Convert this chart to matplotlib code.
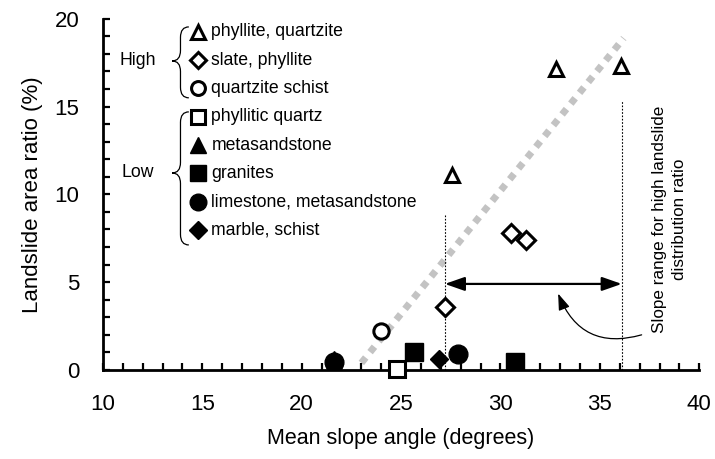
import matplotlib
matplotlib.use("Agg")
import matplotlib.pyplot as plt
from matplotlib.path import Path
from matplotlib.patches import PathPatch
from matplotlib.ticker import MultipleLocator

plt.rcParams['font.family'] = ['Liberation Sans', 'DejaVu Sans']

# ---- data ----
phyllite_quartzite_x = [27.55, 32.8, 36.05]
phyllite_quartzite_y = [11.1, 17.15, 17.3]
slate_phyllite_x = [27.2, 30.55, 31.3]
slate_phyllite_y = [3.6, 7.8, 7.4]
quartzite_schist_x = [24.0, 21.6]
quartzite_schist_y = [2.2, 0.35]
phyllitic_quartz_x = [24.8]
phyllitic_quartz_y = [0.05]
metasandstone_x = [21.6]
metasandstone_y = [0.65]
granites_x = [25.65, 30.75]
granites_y = [1.0, 0.45]
limestone_x = [21.6, 27.85]
limestone_y = [0.45, 0.9]
marble_x = [26.9]
marble_y = [0.65]

trend_x = [23.0, 36.2]
trend_y = [0.4, 18.9]
range_lo, range_hi = 27.2, 36.1
range_lo_top, range_hi_top = 8.8, 15.3
arrow_y = 4.9

legend_labels = ["phyllite, quartzite", "slate, phyllite", "quartzite schist",
                 "phyllitic quartz", "metasandstone", "granites",
                 "limestone, metasandstone", "marble, schist"]
group_labels = ["High", "Low"]

fig = plt.figure(figsize=(7.15, 4.59), dpi=100)
ax = fig.add_axes([0.144, 0.194, 0.834, 0.765])
ax.set_xlim(10, 40)
ax.set_ylim(0, 20)

open_kw = dict(mfc='white', mec='black', mew=2.2, ls='none')
fill_kw = dict(mfc='black', mec='black', ls='none')

ax.plot(trend_x, trend_y, color='#c3c3c3', lw=5, ls=(0, (1, 1)), zorder=1)

ax.plot([range_lo, range_lo], [0, range_lo_top], color='black', lw=0.8, ls=(0, (1.5, 1.5)), zorder=1)
ax.plot([range_hi, range_hi], [0, range_hi_top], color='black', lw=0.8, ls=(0, (1.5, 1.5)), zorder=1)
ax.annotate('', xy=(range_lo, arrow_y), xytext=(range_hi, arrow_y),
            arrowprops=dict(arrowstyle='<|-|>,head_length=1.2,head_width=0.42',
                            color='black', lw=1.6, shrinkA=0, shrinkB=0))
ax.annotate('', xy=(32.9, 4.35), xytext=(37.1, 2.0),
            arrowprops=dict(arrowstyle='-|>,head_length=1.0,head_width=0.35',
                            color='black', lw=0.9, shrinkA=0, shrinkB=0,
                            connectionstyle='arc3,rad=-0.45'))
ax.text(38.5, 8.6, "Slope range for high landslide\ndistribution ratio", rotation=90,
        ha='center', va='center', fontsize=12.3, linespacing=1.4)

ax.plot(quartzite_schist_x, quartzite_schist_y, 'o', ms=11, zorder=3, **open_kw)
ax.plot(limestone_x, limestone_y, 'o', ms=13.5, zorder=3, **fill_kw)
ax.plot(metasandstone_x, metasandstone_y, '^', ms=11, zorder=4, **fill_kw)
ax.plot(phyllitic_quartz_x, phyllitic_quartz_y, 's', ms=12, zorder=4, clip_on=False, **open_kw)
ax.plot(granites_x, granites_y, 's', ms=13, zorder=3, **fill_kw)
ax.plot(marble_x, marble_y, 'D', ms=9.5, zorder=3, **fill_kw)
ax.plot(slate_phyllite_x, slate_phyllite_y, 'D', ms=9, zorder=3, **open_kw)
ax.plot(phyllite_quartzite_x, phyllite_quartzite_y, '^', ms=10.5, zorder=3, **open_kw)

# legend (manual)
styles = [('^', open_kw, 10), ('D', open_kw, 8), ('o', open_kw, 10),
          ('s', open_kw, 10), ('^', fill_kw, 11), ('s', fill_kw, 12),
          ('o', fill_kw, 12), ('D', fill_kw, 9)]
tr = ax.transAxes
y0, dy = 0.963, 0.0806
for i, (lab, (mk, kw, ms)) in enumerate(zip(legend_labels, styles)):
    y = y0 - i * dy
    ax.plot([0.160], [y], mk, ms=ms, transform=tr, **kw)
    ax.text(0.182, y, lab, transform=tr, ha='left', va='center', fontsize=12.7)

ax.text(0.058, 0.880, group_labels[0], transform=tr, ha='center', va='center', fontsize=12.7)
ax.text(0.058, 0.561, group_labels[1], transform=tr, ha='center', va='center', fontsize=12.7)

def brace(x_tip, x_mid, x_end, y_top, y_mid, y_bot):
    r = 0.03
    verts = [(x_end, y_top), (x_mid, y_top), (x_mid, y_top - r),
             (x_mid, y_mid + r),
             (x_mid, y_mid), (x_tip, y_mid),
             (x_mid, y_mid), (x_mid, y_mid - r),
             (x_mid, y_bot + r),
             (x_mid, y_bot), (x_end, y_bot)]
    codes = [Path.MOVETO, Path.CURVE3, Path.CURVE3, Path.LINETO,
             Path.CURVE3, Path.CURVE3, Path.CURVE3, Path.CURVE3,
             Path.LINETO, Path.CURVE3, Path.CURVE3]
    ax.add_patch(PathPatch(Path(verts, codes), fc='none', ec='black', lw=0.9,
                           transform=tr, clip_on=False))

brace(0.116, 0.130, 0.144, 0.977, 0.880, 0.775)
brace(0.116, 0.130, 0.144, 0.735, 0.561, 0.356)

for s in ['top', 'right']:
    ax.spines[s].set_visible(False)
for s in ['left', 'bottom']:
    ax.spines[s].set_linewidth(2)
ax.xaxis.set_major_locator(MultipleLocator(5))
ax.xaxis.set_minor_locator(MultipleLocator(1))
ax.yaxis.set_major_locator(MultipleLocator(5))
ax.yaxis.set_minor_locator(MultipleLocator(1))
ax.tick_params(which='both', direction='in', length=5, width=1.6)
ax.tick_params(axis='x', which='major', labelsize=16, pad=17)
ax.tick_params(axis='y', which='major', labelsize=16, pad=17)
ax.set_xlabel('Mean slope angle (degrees)', fontsize=15.5, labelpad=10)
ax.set_ylabel('Landslide area ratio (%)', fontsize=16, labelpad=8)

fig.savefig('out.png', dpi=100)
